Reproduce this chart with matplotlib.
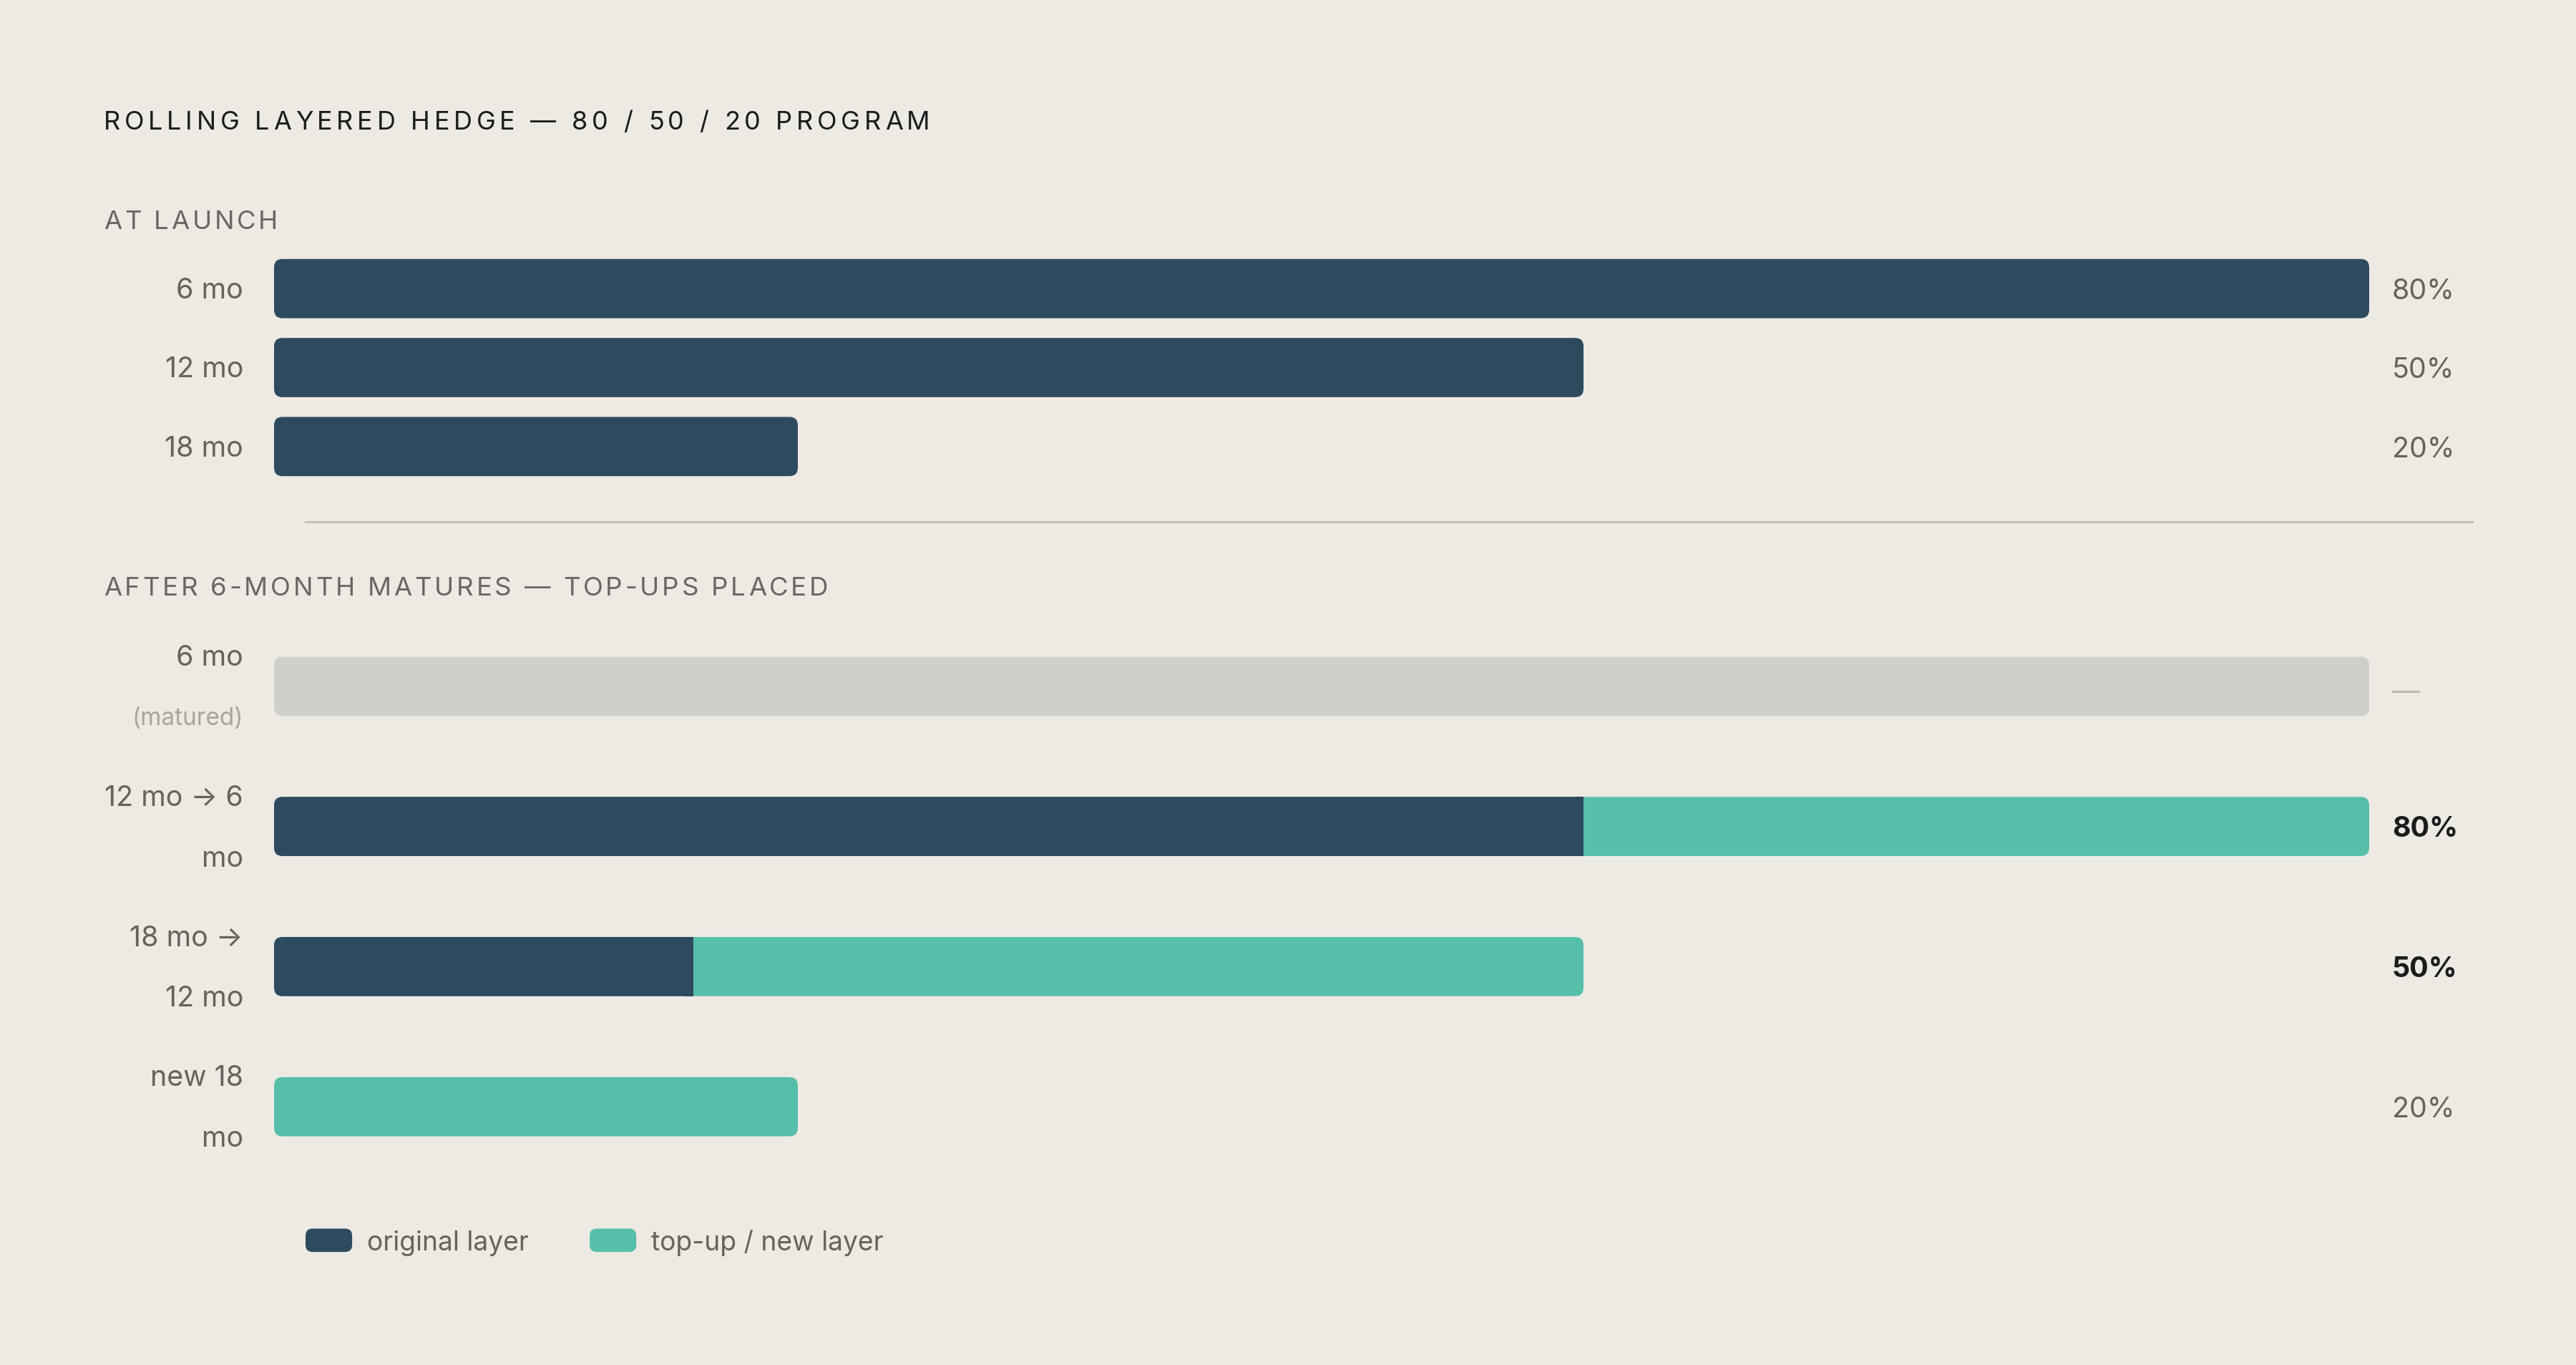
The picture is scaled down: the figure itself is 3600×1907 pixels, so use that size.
import matplotlib
matplotlib.use("Agg")
import matplotlib.pyplot as plt
from matplotlib.patches import FancyBboxPatch, Rectangle, Patch
from matplotlib.legend_handler import HandlerPatch
from matplotlib.lines import Line2D
from matplotlib.font_manager import FontProperties

# --- data ---
launch_labels = ["6 mo", "12 mo", "18 mo"]
launch_pct = [80, 50, 20]

after_main = ["6 mo", "12 mo \u2192 6", "18 mo \u2192", "new 18"]
after_sub = ["(matured)", "mo", "12 mo", "mo"]
after_matured = [80, 0, 0, 0]
after_original = [0, 50, 16, 0]
after_topup = [0, 30, 34, 20]
after_text = ["\u2014", "80%", "50%", "20%"]
after_bold = [False, True, True, False]

legend_labels = ["original layer", "top-up / new layer"]

# --- style ---
W, H, DPI = 3600, 1908, 200
BG = "#edeae4"
NAVY = "#2e4a5f"
TEAL = "#57bfa9"
GREY_BAR = "#d0cfca"
LABEL = "#66625c"
HEAD = "#6b6661"
DARK = "#1c1c1c"
FS = 14.2

plt.rcParams['font.family'] = ['Inter', 'DejaVu Sans']

fig = plt.figure(figsize=(W / DPI, H / DPI), dpi=DPI, facecolor=BG)
renderer = fig.canvas.get_renderer()


def px_axes(left, top, right, bottom):
    ax = fig.add_axes([left / W, 1 - bottom / H, (right - left) / W, (bottom - top) / H])
    ax.set_facecolor("none")
    ax.axis("off")
    return ax


def rbar(ax, x0, x1, y, h, color, r_px=12, z=2):
    p0 = ax.transData.transform((0, 0))
    p1 = ax.transData.transform((1, 1))
    xppu = abs(p1[0] - p0[0])
    yppu = abs(p1[1] - p0[1])
    rx = r_px / xppu
    patch = FancyBboxPatch((x0, y - h / 2), x1 - x0, h,
                           boxstyle="round,pad=0,rounding_size=%f" % rx,
                           mutation_aspect=xppu / yppu,
                           fc=color, ec="none", zorder=z)
    ax.add_patch(patch)
    return rx


def tracked_text(x_px, y_px, s, size, color, spacing_em):
    # letter-spaced text, one glyph at a time
    prop = FontProperties(family=['Inter', 'DejaVu Sans'], size=size)
    em = size / 72 * DPI
    ref_w = renderer.get_text_width_height_descent("H", prop, ismath=False)[0]
    for i, ch in enumerate(s):
        if ch == " ":
            continue
        pre = renderer.get_text_width_height_descent(s[:i] + "H", prop, ismath=False)[0] - ref_w
        x = x_px + pre + i * spacing_em * em
        fig.text(x / W, 1 - y_px / H, ch, fontproperties=prop, color=color,
                 va="center_baseline", ha="left")


# --- title & headers ---
tracked_text(145, 168, "ROLLING LAYERED HEDGE \u2014 80 / 50 / 20 PROGRAM", 13, DARK, 0.158)
tracked_text(145, 307, "AT LAUNCH", 13.2, HEAD, 0.1)
tracked_text(145, 819, "AFTER 6-MONTH MATURES \u2014 TOP-UPS PLACED", 13.2, HEAD, 0.103)
fig.add_artist(Line2D([427 / W, 3455 / W], [1 - 730 / H, 1 - 730 / H],
                      transform=fig.transFigure, color="#c4c1bb", lw=1.1))

# --- section 1 ---
ax1 = px_axes(383, 349, 3311, 680)
ax1.set_xlim(0, 80)
ax1.set_ylim(len(launch_pct) - 0.5, -0.5)
for i, (lab, v) in enumerate(zip(launch_labels, launch_pct)):
    rbar(ax1, 0, v, i, 0.75, NAVY)
    ax1.annotate(lab, xy=(0, i), xycoords=("axes fraction", "data"),
                 xytext=(-15.5, -0.8), textcoords="offset points",
                 ha="right", va="center", fontsize=FS, color=LABEL)
    ax1.annotate(f"{v}%", xy=(1, i), xycoords=("axes fraction", "data"),
                 xytext=(11.5, -1.2), textcoords="offset points",
                 ha="left", va="center", fontsize=FS, color=LABEL)

# --- section 2 ---
ax2 = px_axes(383, 862, 3311, 1645)
ax2.set_xlim(0, 80)
ax2.set_ylim(len(after_main) - 0.5, -0.5)
h2 = 0.422
for i in range(len(after_main)):
    orig, top = after_original[i], after_topup[i]
    if after_matured[i] > 0:
        rbar(ax2, 0, after_matured[i], i, h2, GREY_BAR)
    if top > 0:
        rbar(ax2, 0, orig + top, i, h2, TEAL)
    if orig > 0:
        rx = rbar(ax2, 0, orig, i, h2, NAVY, z=3)
        if top > 0:
            ax2.add_patch(Rectangle((orig - rx, i - h2 / 2), rx, h2, fc=NAVY, ec="none", zorder=3))

    ax2.annotate(after_main[i], xy=(0, i), xycoords=("axes fraction", "data"),
                 xytext=(-15.5, 14.5), textcoords="offset points",
                 ha="right", va="center", fontsize=FS, color=LABEL)
    matured = after_matured[i] > 0
    ax2.annotate(after_sub[i], xy=(0, i), xycoords=("axes fraction", "data"),
                 xytext=(-15.5, -16), textcoords="offset points",
                 ha="right", va="center", fontsize=12 if matured else FS,
                 color="#a8a49e" if matured else LABEL)

    txt = after_text[i]
    if txt == "\u2014":
        col, wt, dy = "#bcb8b2", "normal", -3
    else:
        col, wt = (DARK, "bold") if after_bold[i] else (LABEL, "normal")
        dy = -1.2
    ax2.annotate(txt, xy=(1, i), xycoords=("axes fraction", "data"),
                 xytext=(11.5, dy), textcoords="offset points",
                 ha="left", va="center", fontsize=FS, color=col, fontweight=wt)


# --- legend ---
def rounded_handle(legend, orig_handle, xdescent, ydescent, width, height, fontsize):
    return FancyBboxPatch((-xdescent, -ydescent), width, height,
                          boxstyle="round,pad=0,rounding_size=%f" % (height * 0.3))


handles = [Patch(fc=NAVY, ec="none"), Patch(fc=TEAL, ec="none")]
fig.legend(handles, legend_labels, loc="center left",
           bbox_to_anchor=(427 / W, 1 - 1736 / H), ncol=2, frameon=False,
           fontsize=13.4, labelcolor=LABEL, borderpad=0, borderaxespad=0,
           handlelength=1.75, handleheight=0.97, handletextpad=0.55, columnspacing=2.3,
           handler_map={Patch: HandlerPatch(patch_func=rounded_handle)})

fig.savefig("out.png", dpi=DPI, facecolor=BG)
